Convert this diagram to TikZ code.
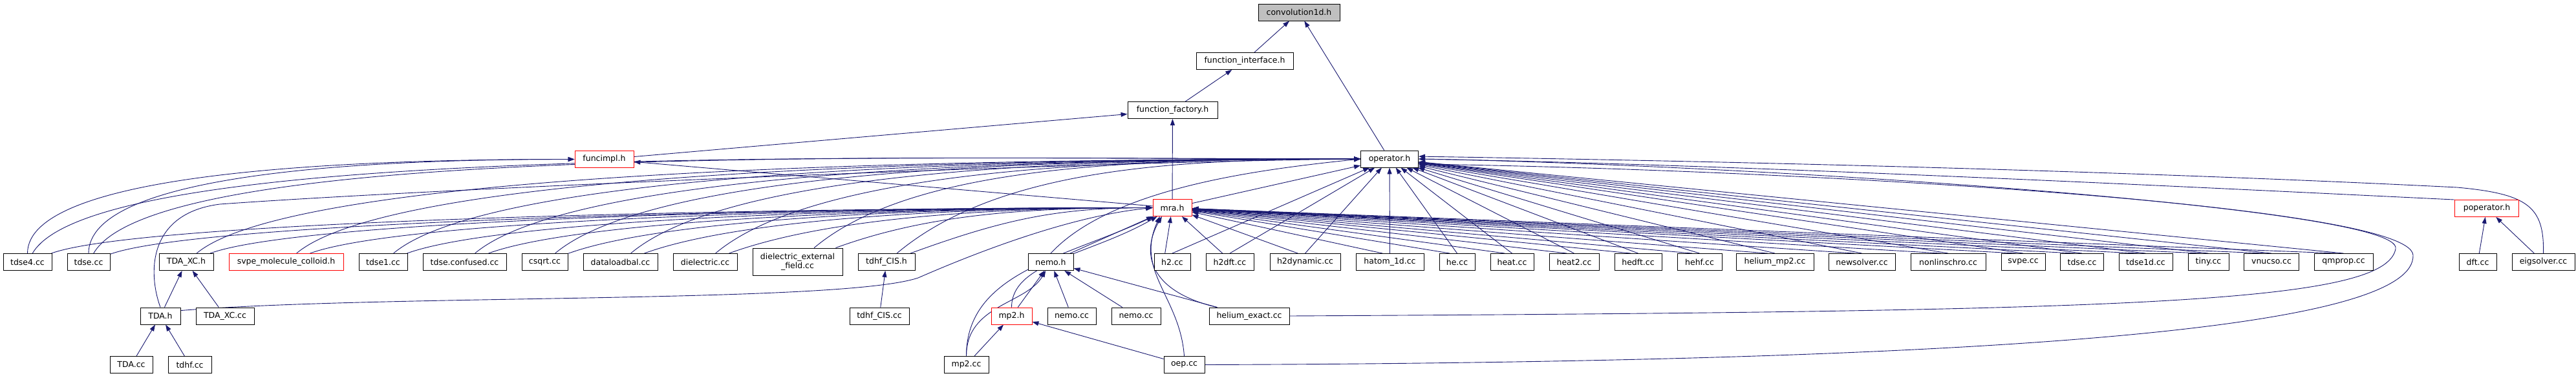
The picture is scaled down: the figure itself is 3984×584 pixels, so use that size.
\documentclass[tikz,border=0pt]{standalone}
\usepackage{fontspec}
\newfontfamily\dxfont{DejaVu Sans}
\usetikzlibrary{arrows.meta, backgrounds}
\definecolor{edgeblue}{HTML}{191970}
\definecolor{hdrgray}{HTML}{BFBFBF}
\definecolor{redline}{HTML}{FF0000}

\begin{document}
\begin{tikzpicture}[x=1pt, y=1pt]
    \tikzset{fbox/.style={draw=black, line width=0.9pt, fill=white, minimum height=26pt, inner sep=0pt, align=center, font=\dxfont\fontsize{12.5}{14}\selectfont},
      redbox/.style={fbox, draw=redline},
      dep/.style={draw=edgeblue, line width=0.9pt, -{Triangle[length=10pt, width=7pt]}}}
    \useasboundingbox (0,0) rectangle (3984,-584);
    % upper part
    \node[fbox, fill=hdrgray, minimum width=126pt] (conv) at (2009,-19) {convolution1d.h};
    \node[fbox, minimum width=150pt] (finter) at (1925,-94.5) {function\_interface.h};
    \node[fbox, minimum width=139pt] (ffact) at (1813.5,-170.5) {function\_factory.h};
    \node[redbox, minimum width=91pt] (funcimpl) at (934.5,-246.5) {funcimpl.h};
    \node[fbox, minimum width=89pt] (operator) at (2149,-246) {operator.h};
    \node[redbox, minimum width=60pt] (mra) at (1813,-321.5) {mra.h};
    \node[redbox, minimum width=99pt] (poperator) at (3846,-322.5) {poperator.h};
    % row of sources
    \foreach \n/\x/\w/\t in {tdse4/42.5/75/tdse4.cc, tdse/137/66/tdse.cc, TDAXCh/288/84/TDA\_XC.h,
        tdse1/592.5/75/tdse1.cc, tdseconf/718.5/129/tdse.confused.cc, csqrt/842.5/71/csqrt.cc,
        dataload/959.5/115/dataloadbal.cc, dielec/1090.5/99/dielectric.cc, tdhfCISh/1371/88/tdhf\_CIS.h,
        nemoh/1625/70/nemo.h, h2/1813/56/h2.cc, h2dft/1902/74/h2dft.cc, h2dyn/2018.5/109/h2dynamic.cc,
        hatom/2149.5/105/hatom\_1d.cc, he/2253.5/55/he.cc, heat/2338.5/67/heat.cc, heat2/2434.5/77/heat2.cc,
        hedft/2533.5/73/hedft.cc, hehf/2628.5/69/hehf.cc, hemp2/2745/120/helium\_mp2.cc,
        newsolver/2879.5/103/newsolver.cc, nonlin/3013/116/nonlinschro.cc, svpe/3129/68/svpe.cc,
        tdse2/3220/67/tdse.cc, tdse1d/3318.5/83/tdse1d.cc, tiny/3415.5/63/tiny.cc, vnucso/3513/85/vnucso.cc,
        qmprop/3624.5/91/qmprop.cc, dft/3832/58/dft.cc, eigsolver/3933.5/97/eigsolver.cc}
      \node[fbox, minimum width=\w pt] (\n) at (\x,-405.5) {\t};
    \node[redbox, minimum width=177pt] (svpemc) at (442.5,-405.5) {svpe\_molecule\_colloid.h};
    \node[fbox, minimum width=139pt, minimum height=42pt] (dielext) at (1233.5,-405) {dielectric\_external\\\_field.cc};
    % lower rows
    \foreach \n/\x/\y/\w/\t in {TDAh/248/489/62/TDA.h, TDAXCcc/348/489/90/TDA\_XC.cc, tdhfCIScc/1360/489/92/tdhf\_CIS.cc,
        nemocc/1657.5/489/75/nemo.cc, nemocctwo/1757/489/76/nemo.cc, hexact/1932/489/124/helium\_exact.cc,
        TDAcc/203/564.5/66/TDA.cc, tdhfcc/293.5/564.5/67/tdhf.cc, mp2cc/1494.5/564.5/69/mp2.cc, oep/1831.5/564.5/63/oep.cc}
      \node[fbox, minimum width=\w pt] (\n) at (\x,-\y) {\t};
    \node[redbox, minimum width=63pt] (mp2h) at (1564.5,-489) {mp2.h};

    \begin{scope}[on background layer]
    \draw[dep] (finter) -- (conv);
    \draw[dep] (operator) -- (conv);
    \draw[dep] (ffact) -- (finter);
    \draw[dep] (funcimpl) -- (ffact);
    \draw[dep] (mra) -- (ffact);
    \draw[dep] (mra) -- (funcimpl);
    \draw[dep] (mra) -- (operator);
    % sources on the left
    \draw[dep] (tdse4.north) .. controls +(0,120) and +(-400,0) .. (funcimpl.west);
    \draw[dep] (tdse.north) .. controls +(0,120) and +(-350,0) .. (funcimpl.west);
    \foreach \s/\o/\a/\b in {tdse4/60/700/600, tdse/60/700/550, TDAXCh/40/650/550, svpemc/40/600/500,
        tdse1/40/550/450, tdseconf/40/500/400, csqrt/40/500/380, dataload/40/450/330, dielec/40/400/280,
        dielext/40/350/200, tdhfCISh/40/300/150} {
      \draw[dep] (\s.\o) .. controls +(\o:200) and +(-\a,0) .. (operator.west);
      \draw[dep] (\s.20) .. controls +(20:150) and +(-\b,0) .. (mra.west);
    }
    \draw[dep] (TDAh.north) .. controls (228,-420) and (230,-330) .. (340,-316) .. controls (700,-290) and (1700,-250) .. (operator.west);
    \draw[dep] (TDAh.15) .. controls (600,-455) and (1300,-470) .. (1420,-430) .. controls (1500,-395) and (1650,-335) .. (mra.west);
    \draw[dep] (TDAh) -- (TDAXCh);
    \draw[dep] (TDAXCcc) -- (TDAXCh);
    \draw[dep] (TDAcc) -- (TDAh);
    \draw[dep] (tdhfcc) -- (TDAh);
    \draw[dep] (tdhfCIScc) -- (tdhfCISh);
    % nemo and mp2
    \draw[dep] (nemoh) -- (mra);
    \draw[dep] (nemoh.north) .. controls (1720,-290) and (1950,-262) .. (operator.west);
    \draw[dep] (mp2h) -- (nemoh);
    \draw[dep] (mp2h.north) .. controls +(0,70) and +(-150:120) .. (mra.-150);
    \draw[dep] (nemocc) -- (nemoh);
    \draw[dep] (nemocctwo) -- (nemoh);
    \draw[dep] (hexact) -- (nemoh);
    \draw[dep] (hexact.165) .. controls (1775,-450) and (1765,-390) .. (mra.-140);
    \draw[dep] (mp2cc) -- (mp2h);
    \draw[dep] (mp2cc.north) .. controls +(0,80) and +(-120:60) .. (nemoh.-120);
    \draw[dep] (mp2cc.north) .. controls +(0,130) and +(-155:150) .. (mra.-155);
    \draw[dep] (oep) -- (mp2h);
    \draw[dep] (oep.north) .. controls (1825,-460) and (1755,-420) .. (mra.-145);
    % sources on the right
    \foreach \s in {h2, h2dft, h2dyn, hatom, he, heat, heat2, hedft, hehf, hemp2, newsolver, nonlin,
        svpe, tdse2, tdse1d, tiny, vnucso, qmprop} {
      \draw[dep] (\s.north) -- (operator);
      \draw[dep] (\s.130) -- (mra);
    }
    \draw[dep] (hexact.east) .. controls (3300,-482) and (3690,-470) .. (3705,-385) .. controls (3718,-320) and (2700,-255) .. (operator.east);
    \draw[dep] (oep.east) .. controls (3200,-560) and (3735,-500) .. (3732,-395) .. controls (3728,-315) and (2750,-262) .. (operator.-10);
    \draw[dep] (eigsolver.north) .. controls (3935,-320) and (3910,-300) .. (3800,-290) .. controls (3300,-265) and (2700,-250) .. (operator.5);
    \draw[dep] (poperator.north west) .. controls (3400,-290) and (2700,-255) .. (operator.east);
    \draw[dep] (dft) -- (poperator);
    \draw[dep] (eigsolver) -- (poperator);
    \end{scope}
  \end{tikzpicture}
\end{document}
